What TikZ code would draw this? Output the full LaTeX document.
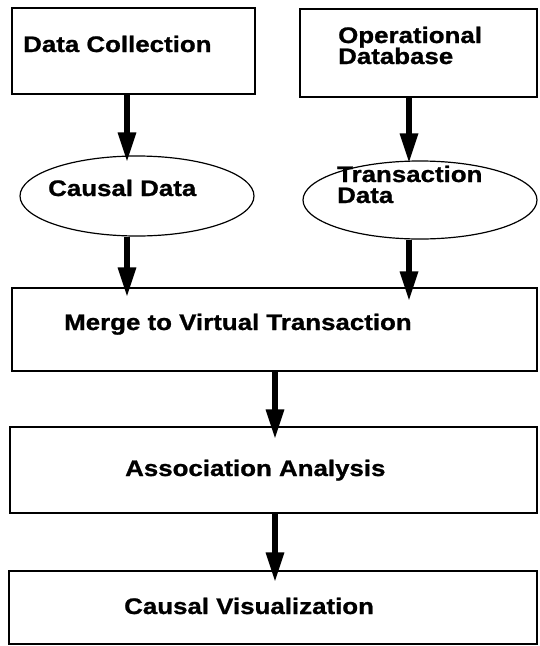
\documentclass[tikz,border=0pt]{standalone}
\usepackage{fontspec}
\newfontfamily\labfont[FakeStretch=1.15,FakeBold=1]{Liberation Sans}
\usetikzlibrary{arrows.meta,shapes.geometric}

\tikzset{
  box/.style={draw, line width=1.4pt, inner sep=0pt},
  oval/.style={draw, ellipse, line width=1.2pt, inner sep=0pt},
  lbl/.style={anchor=base west, inner sep=0pt, align=left,
    font=\labfont\bfseries\fontsize{22.5}{21}\selectfont},
  flow/.style={line width=6pt, -{Triangle[length=30pt,width=17pt]}},
}

\begin{document}
\begin{tikzpicture}[x=1pt,y=-1pt]
  \useasboundingbox (0,0) rectangle (539,646);

  % boxes and ovals
  \node[box, minimum width=243pt, minimum height=86pt] (collect) at (133.5,51) {};
  \node[box, minimum width=237pt, minimum height=88pt] (opdb) at (418.5,53) {};
  \node[oval, minimum width=234pt, minimum height=80pt] (causal) at (137,196) {};
  \node[oval, minimum width=234pt, minimum height=78pt] (trans) at (420,200) {};
  \node[box, minimum width=525pt, minimum height=83pt] (merge) at (274.5,329.5) {};
  \node[box, minimum width=527pt, minimum height=86pt] (assoc) at (273.5,470) {};
  \node[box, minimum width=528pt, minimum height=73pt] (vis) at (273,607.5) {};

  % labels (multi-line labels are anchored at the baseline of their last line)
  \node[lbl] (tcollect) at (23,52) {Data Collection};
  \node[lbl] (topdb) at (338,64) {Operational\\Database};
  \node[lbl] (tcausal) at (48,196) {Causal Data};
  \node[lbl] (ttrans) at (337,203) {Transaction\\Data};
  \node[lbl] (tmerge) at (64,330) {Merge to Virtual Transaction};
  \node[lbl] (tassoc) at (125,476) {Association Analysis};
  \node[lbl] (tvis) at (124,614) {Causal Visualization};

  % arrow columns
  \coordinate (cl) at (127,0);
  \coordinate (cr) at (409,0);
  \coordinate (cm) at (275,0);

  % connectors
  \draw[flow, shorten >=-7pt] (cl |- collect.south) -- (cl |- causal.north);
  \draw[flow, shorten >=-3pt] (cr |- opdb.south) -- (cr |- trans.north);
  \draw[flow, shorten >=-10pt] (cl |- causal.south) -- (cl |- merge.north);
  \draw[flow, shorten >=-14pt] (cr |- trans.south) -- (cr |- merge.north);
  \draw[flow, shorten >=-13pt] (cm |- merge.south) -- (cm |- assoc.north);
  \draw[flow, shorten >=-12pt] (cm |- assoc.south) -- (cm |- vis.north);
\end{tikzpicture}
\end{document}
